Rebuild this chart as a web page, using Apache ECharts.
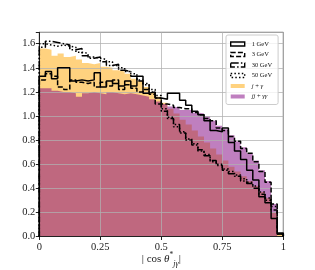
<!DOCTYPE html>
<html><head><meta charset="utf-8">
<script src="https://cdn.jsdelivr.net/npm/echarts@6/dist/echarts.min.js"></script>
<style>html,body{margin:0;padding:0;background:#fff}#c{width:315px;height:270px}</style>
</head><body><div id="c"></div>
<script>
const binCount = 40;
const jGamma = [1.56,1.55,1.50,1.52,1.49,1.50,1.47,1.44,1.43,1.44,1.41,1.40,1.38,1.37,1.35,1.31,1.29,1.24,1.20,1.16,1.11,1.06,1.02,0.97,0.93,0.88,0.83,0.78,0.73,0.68,0.63,0.58,0.54,0.50,0.46,0.42,0.37,0.32,0.20,0.02];
const jjGammaGamma = [1.23,1.23,1.21,1.20,1.20,1.19,1.16,1.19,1.20,1.19,1.18,1.20,1.19,1.18,1.19,1.18,1.17,1.16,1.14,1.12,1.10,1.08,1.07,1.05,1.05,1.03,1.02,1.00,0.96,0.92,0.89,0.84,0.79,0.74,0.69,0.63,0.55,0.46,0.27,0.0];
const gev1 = [1.33,1.37,1.31,1.40,1.40,1.29,1.30,1.29,1.30,1.36,1.24,1.29,1.27,1.25,1.29,1.25,1.33,1.19,1.20,1.15,1.14,1.19,1.19,1.13,1.09,1.04,1.01,0.96,0.88,0.87,0.90,0.78,0.71,0.64,0.55,0.47,0.33,0.28,0.15,0.03];
const gev3 = [1.30,1.35,1.33,1.24,1.22,1.30,1.28,1.27,1.28,1.24,1.28,1.25,1.30,1.22,1.26,1.23,1.20,1.22,1.18,1.10,1.10,1.09,1.07,1.06,1.06,1.03,1.01,0.98,0.96,0.90,0.88,0.83,0.79,0.73,0.69,0.62,0.54,0.45,0.27,0.02];
const gev30 = [1.57,1.62,1.61,1.60,1.59,1.55,1.56,1.50,1.48,1.49,1.45,1.42,1.43,1.38,1.37,1.33,1.29,1.26,1.20,1.15,1.04,0.98,0.93,0.86,0.81,0.76,0.72,0.67,0.63,0.59,0.55,0.52,0.50,0.46,0.44,0.40,0.35,0.30,0.22,0.02];
const gev50 = [1.60,1.59,1.58,1.59,1.58,1.57,1.53,1.52,1.49,1.48,1.47,1.45,1.42,1.40,1.37,1.35,1.30,1.27,1.22,1.17,1.06,0.99,0.91,0.87,0.80,0.77,0.71,0.68,0.62,0.60,0.56,0.54,0.51,0.48,0.45,0.42,0.37,0.32,0.25,0.02];
const xTickLabels = ['0','0.25','0.5','0.75','1'];
const yTickLabels = ['0.0','0.2','0.4','0.6','0.8','1.0','1.2','1.4','1.6'];

function stepPoints(vals, closed) {
  const pts = [];
  if (closed) pts.push([0, 0]);
  vals.forEach((v, i) => pts.push([i / binCount, v]));
  pts.push([1, vals[vals.length - 1]]);
  if (closed) pts.push([1, 0]);
  return pts;
}
const FONT = 'Liberation Serif';
const chart = echarts.init(document.getElementById('c'), null, {renderer: 'canvas'});
function fill(name, vals, color) {
  return {name, type: 'line', step: 'end', symbol: 'none', silent: true, z: 1,
    lineStyle: {width: 0, opacity: 0}, areaStyle: {color, opacity: 1},
    data: stepPoints(vals, false)};
}
function outline(name, vals, type) {
  return {name, type: 'line', step: 'end', symbol: 'none', silent: true, z: 3,
    lineStyle: {color: '#000', width: 1.5, type}, data: stepPoints(vals, true)};
}
const dashed = [5, 2.2], dashDot = [8, 2.2, 1.5, 2.2], dotted = [1.5, 2.2];
const lineLegend = (name, type) => ({name, icon: 'rect', itemStyle: {color: 'rgba(0,0,0,0)', borderColor: '#000', borderWidth: 1.4, borderType: type}});
chart.setOption({
  animation: false,
  grid: {left: 39.3, right: 31.7, top: 32.3, bottom: 33.5, show: true, borderColor: '#333', borderWidth: 0.8, z: 2,
    containLabel: false, outerBoundsMode: 'none'},
  legend: {
    orient: 'vertical', left: 226, top: 35, padding: [5, 6, 4, 4], itemGap: 2.5,
    itemWidth: 14, itemHeight: 4, backgroundColor: 'rgba(255,255,255,0.8)',
    borderColor: '#cccccc', borderWidth: 1, borderRadius: 2,
    textStyle: {fontFamily: FONT, fontSize: 6.5, color: '#111', lineHeight: 8, padding: [0, 0, 0, 2],
      rich: {i: {fontFamily: FONT, fontStyle: 'italic', fontSize: 6.5, lineHeight: 8}}},
    formatter: n => n === 'j+γ' ? '{i|j} + {i|γ}' : (n === 'jj+γγ' ? '{i|jj} + {i|γγ}' : n),
    data: [lineLegend('1 GeV', 'solid'), lineLegend('3 GeV', dashed), lineLegend('30 GeV', dashDot), lineLegend('50 GeV', dotted),
      {name: 'j+γ', icon: 'rect', itemStyle: {color: 'rgba(255,165,0,0.5)', borderWidth: 0}},
      {name: 'jj+γγ', icon: 'rect', itemStyle: {color: 'rgba(128,0,128,0.5)', borderWidth: 0}}]
  },
  xAxis: {
    type: 'value', min: 0, max: 1, interval: 0.25, z: 2,
    axisLine: {show: true, lineStyle: {color: '#222', width: 1}},
    axisTick: {show: true, length: 3.5, lineStyle: {color: '#222'}},
    axisLabel: {fontFamily: FONT, fontSize: 10.5, color: '#222', margin: 5, formatter: (v, i) => xTickLabels[i] ?? ''},
    splitLine: {show: true, lineStyle: {color: 'rgba(176,176,176,0.75)', width: 1}},
    name: '| cos {i|θ}{sup|*}{sub|jγ}|', nameLocation: 'middle', nameGap: 15, nameMoveOverlap: false,
    nameTextStyle: {fontFamily: FONT, fontSize: 11, color: '#222', lineHeight: 16,
      rich: {i: {fontFamily: FONT, fontStyle: 'italic', fontSize: 11, lineHeight: 16},
        sup: {fontFamily: FONT, fontSize: 7.5, verticalAlign: 'top', lineHeight: 9},
        sub: {fontFamily: FONT, fontStyle: 'italic', fontSize: 8, verticalAlign: 'bottom', lineHeight: 10}}}
  },
  yAxis: {
    type: 'value', min: 0, max: 1.695, interval: 0.2, z: 2,
    axisLine: {show: true, lineStyle: {color: '#222', width: 1}},
    axisTick: {show: true, length: 3.5, lineStyle: {color: '#222'}},
    axisLabel: {fontFamily: FONT, fontSize: 10.5, color: '#222', margin: 4, formatter: (v, i) => yTickLabels[i] ?? ''},
    splitLine: {show: true, lineStyle: {color: 'rgba(176,176,176,0.75)', width: 1}}
  },
  series: [
    fill('j+γ', jGamma, 'rgba(255,165,0,0.5)'),
    fill('jj+γγ', jjGammaGamma, 'rgba(128,0,128,0.5)'),
    outline('1 GeV', gev1, 'solid'),
    outline('3 GeV', gev3, dashed),
    outline('30 GeV', gev30, dashDot),
    outline('50 GeV', gev50, dotted)
  ]
});
</script></body></html>
